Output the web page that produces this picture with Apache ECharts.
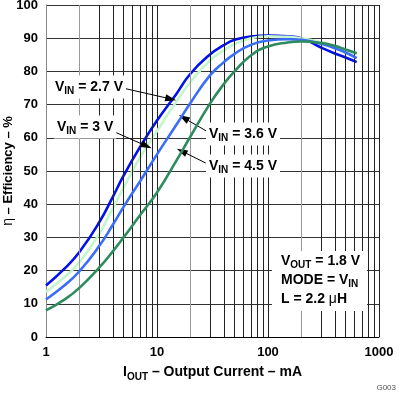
<!DOCTYPE html>
<html><head><meta charset="utf-8">
<script src="https://cdn.jsdelivr.net/npm/echarts@6/dist/echarts.min.js"></script>
<style>html,body{margin:0;padding:0;background:#fff}#c{width:399px;height:393px}</style>
</head><body><div id="c"></div>
<script>
// ---- data ----
const currents = [1, 1.5, 2, 3, 4, 5, 7, 10, 15, 20, 30, 40, 50, 70, 100, 150, 200, 300, 400, 500, 630];
const vin27 = [15.5, 20.9, 25.6, 34.4, 42.2, 48.6, 57.1, 65.2, 73.3, 79.3, 85.1, 87.9, 89.5, 90.5, 90.8, 90.6, 90.0, 87.2, 85.4, 84.2, 82.8];
const vin3  = [13.6, 18.3, 22.5, 31.0, 38.8, 45.0, 54.0, 62.0, 71.0, 76.8, 83.3, 86.3, 88.2, 90.0, 90.6, 90.4, 90.0, 88.8, 87.6, 86.5, 85.3];
const vin36 = [11.3, 15.8, 19.8, 27.3, 33.8, 39.2, 46.8, 55.0, 64.0, 70.5, 78.8, 82.8, 85.3, 88.0, 89.3, 89.7, 89.5, 88.3, 87.0, 85.7, 84.0];
const vin45 = [8.0, 11.5, 14.8, 20.8, 25.8, 30.0, 36.6, 43.5, 53.2, 60.4, 70.3, 76.2, 80.0, 84.8, 87.5, 88.7, 89.0, 88.6, 87.7, 86.6, 85.5];
const seriesNames = ['VIN = 2.7 V', 'VIN = 3 V', 'VIN = 3.6 V', 'VIN = 4.5 V'];
const yTicks = [0, 100, 10]; // min, max, interval
const xRange = [1, 1000];
const gridGray = [2, 20, 200];
const gridDark = [3, 4, 5, 6, 7, 8, 9, 30, 40, 50, 60, 70, 80, 90, 300, 400, 500, 600, 700, 800, 900];
// arrows: [from, to] in data coordinates (I mA, efficiency %)
const arrows = [
  [[4.91, 75], [13.3, 71.7]],
  [[4.0, 62], [8.07, 57.5]],
  [[28, 62], [17.4, 66]],
  [[27.5, 52.4], [16.7, 56]]
];

const FONT = '"Liberation Sans", Arial, Helvetica, sans-serif';
const colors = ['#0010ee', '#c4f5cc', '#3a6ef8', '#2e8b5e'];
const rich = {
  m: {fontFamily: FONT, fontSize: 14, fontWeight: 'bold', color: '#000', lineHeight: 19},
  s: {fontFamily: FONT, fontSize: 10, fontWeight: 'bold', color: '#000', lineHeight: 12, verticalAlign: 'bottom'},
  g: {fontFamily: FONT, fontSize: 14, color: '#000', lineHeight: 19},
  y: {fontFamily: FONT, fontSize: 13, fontWeight: 'bold', color: '#000', lineHeight: 18}
};

const chart = echarts.init(document.getElementById('c'), null, {renderer: 'canvas'});
const mk = (arr) => currents.map((x, i) => [x, arr[i]]);
const curveSeries = [vin27, vin3, vin36, vin45].map((arr, i) => ({
  name: seriesNames[i], type: 'line', data: mk(arr), smooth: 0.5, showSymbol: false,
  lineStyle: {color: colors[i], width: 2.6}, itemStyle: {color: colors[i]}, z: 3 + i, silent: true
}));

function gridSeries(vals, color, z) {
  return {type: 'line', data: [[1, 0]], showSymbol: false, lineStyle: {opacity: 0}, z: z, silent: true,
    markLine: {silent: true, symbol: ['none', 'none'], label: {show: false}, animation: false,
      lineStyle: {color: color, width: 1, type: 'solid'}, emphasis: {disabled: true},
      data: vals.map(v => ({xAxis: v}))}};
}

function label(x, y, text) {
  return {type: 'text', x: x, y: y, z: 50,
    style: {text: text, rich: rich, align: 'left', verticalAlign: 'middle', backgroundColor: '#fff', padding: [2, 3, 2, 3]}};
}

chart.setOption({
  animation: false,
  backgroundColor: '#fff',
  grid: {left: 46, right: 20, top: 5, bottom: 56, containLabel: false, outerBoundsMode: 'none'},
  xAxis: {
    type: 'log', logBase: 10, min: xRange[0], max: xRange[1],
    axisLine: {show: true, lineStyle: {color: '#000', width: 1}},
    axisTick: {show: false},
    splitLine: {show: true, lineStyle: {color: '#222', width: 1}},
    axisLabel: {fontFamily: FONT, fontSize: 13, fontWeight: 'bold', color: '#000', margin: 9, formatter: v => String(v)},
    name: '{m|I}{s|OUT}{m| – Output Current – mA}', nameLocation: 'middle', nameGap: 26, nameMoveOverlap: false,
    nameTextStyle: {rich: rich}
  },
  yAxis: {
    type: 'value', min: yTicks[0], max: yTicks[1], interval: yTicks[2],
    axisLine: {show: true, lineStyle: {color: '#888', width: 1}},
    axisTick: {show: false},
    splitLine: {show: true, lineStyle: {color: '#333', width: 1}},
    axisLabel: {fontFamily: FONT, fontSize: 13, fontWeight: 'bold', color: '#000', margin: 8},
    name: '{g|η}{y| – Efficiency – %}', nameLocation: 'middle', nameGap: 28, nameMoveOverlap: false,
    nameTextStyle: {rich: rich}
  },
  series: [
    gridSeries(gridGray, '#999', 1),
    gridSeries(gridDark, '#222', 1),
    ...curveSeries,
    {type: 'line', data: [[1, 0]], showSymbol: false, lineStyle: {opacity: 0}, z: 20, silent: true,
      markLine: {silent: true, symbol: ['none', 'triangle'], symbolSize: [7, 11], label: {show: false},
        lineStyle: {color: '#000', width: 1, type: 'solid'}, itemStyle: {color: '#000'},
        data: arrows.map(a => [{coord: a[0]}, {coord: a[1]}])}}
  ],
  graphic: [
    label(52, 87, '{m|V}{s|IN}{m| = 2.7 V}'),
    label(54, 127, '{m|V}{s|IN}{m| = 3 V}'),
    label(206, 134, '{m|V}{s|IN}{m| = 3.6 V}'),
    label(206, 166, '{m|V}{s|IN}{m| = 4.5 V}'),
    {type: 'rect', z: 40, shape: {x: 272, y: 251, width: 95, height: 60}, style: {fill: '#fff'}},
    {type: 'text', x: 281, y: 261, z: 50, style: {text: '{m|V}{s|OUT}{m| = 1.8 V}', rich: rich, verticalAlign: 'middle'}},
    {type: 'text', x: 281, y: 280, z: 50, style: {text: '{m|MODE = V}{s|IN}', rich: rich, verticalAlign: 'middle'}},
    {type: 'text', x: 281, y: 299, z: 50, style: {text: '{m|L = 2.2 }{g|μ}{m|H}', rich: rich, verticalAlign: 'middle'}},
    {type: 'text', x: 396, y: 388, z: 50, style: {text: 'G003', fontFamily: FONT, fontSize: 8, fill: '#555', align: 'right', verticalAlign: 'middle'}}
  ]
});
</script></body></html>
